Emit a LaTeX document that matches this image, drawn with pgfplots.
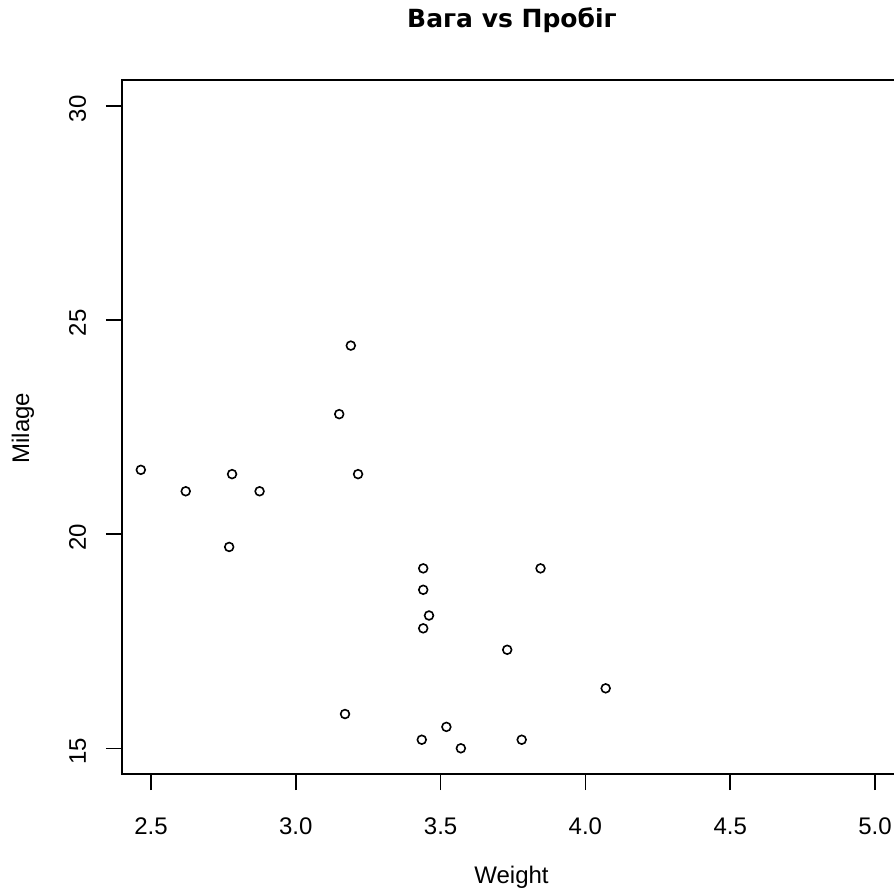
\documentclass[border=0pt]{standalone}
\usepackage{fontspec}
\setmainfont{Liberation Sans}
\newfontfamily\titlefont{DejaVu Sans}
\usepackage{pgfplots}
\pgfplotsset{compat=1.18}
\begin{document}
\fontsize{12}{14}\selectfont
\begin{tikzpicture}
\useasboundingbox (0,0) rectangle (447pt,445pt);
\begin{axis}[
  at={(61pt,58pt)}, anchor=south west,
  scale only axis, width=391pt, height=347pt,
  xmin=2.4, xmax=5.1, ymin=14.4, ymax=30.6,
  xtick={2.5,3,3.5,4,4.5,5}, ytick={15,20,25,30},
  tick pos=left, tick align=outside, major tick length=8pt,
  axis line style={line width=0.8pt},
  every tick/.style={black, line width=0.8pt},
  /pgf/number format/assume math mode=true,
  xticklabel={\pgfmathprintnumber[fixed,fixed zerofill,precision=1]{\tick}},
  yticklabel={\pgfmathprintnumber[fixed,precision=0]{\tick}},
  xticklabel style={anchor=base, inner sep=0pt, font=\fontsize{12}{14}\selectfont, yshift=-22pt},
  yticklabel style={rotate=90, anchor=base, inner sep=0pt, font=\fontsize{12}{14}\selectfont, xshift=-1.5pt, yshift=10pt},
  xticklabel shift=0pt, yticklabel shift=0pt,
]
\addplot[only marks, mark=o, mark size=2.2pt, mark options={line width=0.8pt, black}] table {
x y
2.465 21.5
2.620 21.0
2.780 21.4
2.875 21.0
2.770 19.7
3.150 22.8
3.190 24.4
3.215 21.4
3.440 19.2
3.440 18.7
3.460 18.1
3.440 17.8
3.730 17.3
3.845 19.2
4.070 16.4
3.170 15.8
3.435 15.2
3.520 15.5
3.570 15.0
3.780 15.2
};
\end{axis}
\node[anchor=base, inner sep=0pt, font=\titlefont\bfseries\fontsize{12.5}{14}\selectfont] at (256pt,431pt) {Вага vs Пробіг};
\node[anchor=base, inner sep=0pt] at (255.75pt,3.5pt) {Weight};
\node[anchor=base, inner sep=0pt, rotate=90] at (14.5pt,231pt) {Milage};
\end{tikzpicture}
\end{document}
